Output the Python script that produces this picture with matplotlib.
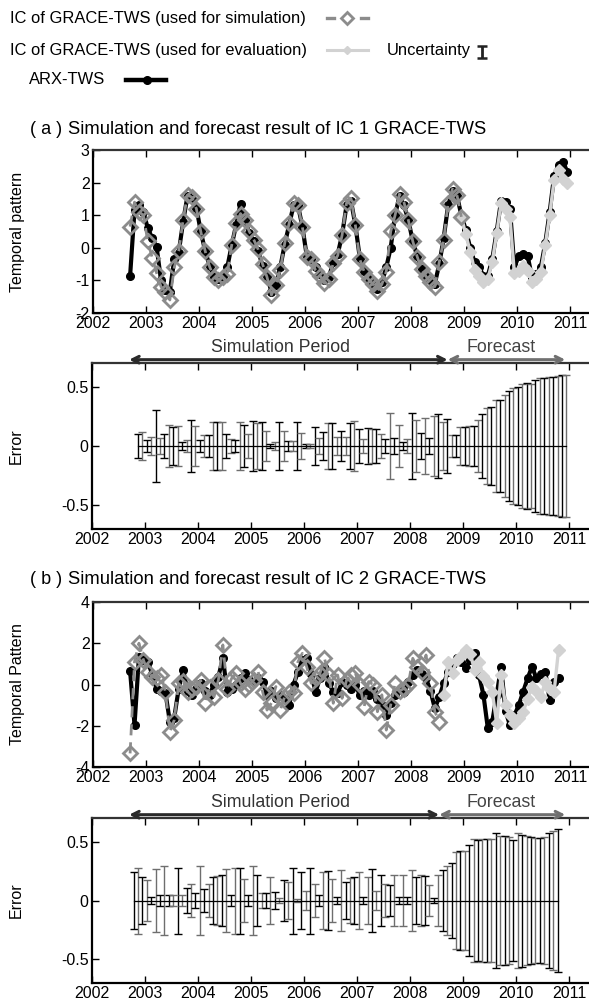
import numpy as np
import matplotlib
matplotlib.use("Agg")
import matplotlib.pyplot as plt

plt.rcParams['font.family'] = ['Liberation Sans', 'DejaVu Sans']
plt.rcParams['axes.unicode_minus'] = False

# ---------------- data ----------------
start_year = 2002.70          # first monthly sample
n_months = 100
years = [2002, 2003, 2004, 2005, 2006, 2007, 2008, 2009, 2010, 2011]

# Panel (a): IC 1
a_sim = [0.65, 1.40, 1.10, 1.00, 0.20, -0.30, -0.77, -1.19, -1.35, -1.60,
         -0.60, -0.10, 0.85, 1.62, 1.55, 1.20, 0.50, -0.10, -0.58, -0.90,
         -1.00, -0.90, -0.80, 0.08, 0.75, 1.05, 0.85, 0.50, 0.25, -0.05,
         -0.50, -0.90, -1.45, -1.14, -0.68, 0.14, 0.75, 1.37, 1.30, 0.65,
         -0.27, -0.33, -0.70, -0.85, -1.09, -0.95, -0.48, -0.24, 0.39, 1.37,
         1.52, 0.70, -0.35, -0.73, -0.97, -1.12, -1.32, -1.12, -0.73, 0.50,
         1.00, 1.65, 1.40, 0.85, 0.20, -0.27, -0.66, -0.88, -1.04, -1.19,
         -0.43, 0.24, 1.37, 1.80, 1.62, 0.95]
a_eval = [0.95, 0.41, -0.12, -0.68, -0.88, -1.04, -0.95, -0.43, 0.44, 1.37,
          1.20, 0.95, -0.78, -0.70, -0.55, -0.70, -1.04, -0.95, -0.75, 0.09,
          1.00, 2.08, 2.39, 2.10, 2.00]
a_arx = [-0.86, 1.15, 1.30, 1.10, 0.60, 0.30, 0.03, -1.00, -1.30, -1.35,
         -0.35, -0.15, 0.80, 1.60, 1.50, 1.23, 0.50, -0.10, -0.55, -0.90,
         -0.95, -0.85, -0.60, 0.08, 0.70, 1.35, 0.85, 0.45, 0.20, -0.10,
         -0.55, -0.85, -1.35, -1.15, -0.60, 0.10, 0.70, 1.30, 1.30, 0.65,
         -0.25, -0.35, -0.60, -0.80, -1.00, -0.90, -0.45, -0.20, 0.40, 1.30,
         1.45, 0.70, -0.30, -0.70, -0.95, -1.10, -1.25, -1.05, -0.60, 0.00,
         1.00, 1.60, 1.30, 0.85, 0.20, -0.25, -0.65, -0.85, -1.00, -1.10,
         -0.50, 0.30, 1.30, 1.75, 1.60, 1.00, 0.55, 0.00, -0.45, -0.60,
         -0.85, -0.85, -0.35, 0.50, 1.45, 1.40, 1.20, -0.60, -0.25, -0.20,
         -0.25, -0.90, -0.80, -0.60, 0.15, 1.10, 2.20, 2.55, 2.64, 2.33]
a_err = [np.nan, np.nan, 0.10, 0.12, 0.05, 0.08, 0.30, 0.07, 0.10, 0.18,
         0.16, 0.17, 0.03, 0.05, 0.22, 0.17, 0.05, 0.09, 0.09, 0.20,
         0.20, 0.20, 0.10, 0.06, 0.05, 0.20, 0.18, 0.10, 0.21, 0.19,
         0.20, 0.13, 0.02, 0.03, 0.20, 0.13, 0.04, 0.04, 0.20, 0.11,
         0.02, 0.02, 0.16, 0.07, 0.12, 0.19, 0.19, 0.08, 0.13, 0.08,
         0.19, 0.21, 0.14, 0.06, 0.15, 0.14, 0.14, 0.10, 0.06, 0.28,
         0.07, 0.18, 0.03, 0.06, 0.28, 0.22, 0.11, 0.24, 0.07, 0.25,
         0.27, 0.20, 0.23, 0.09, 0.09, 0.16, 0.16, 0.17, 0.17, 0.22,
         0.27, 0.32, 0.33, 0.39, 0.39, 0.43, 0.46, 0.49, 0.50, 0.52,
         0.53, 0.52, 0.56, 0.57, 0.57, 0.58, 0.58, 0.59, 0.60, 0.60]

# Panel (b): IC 2
b_sim = [-3.34, 1.10, 2.00, 1.20, 0.62, 0.38, 0.30, 0.46, -0.35, -2.29,
         -1.72, 0.06, 0.15, -0.35, -0.20, -0.10, 0.20, -0.91, -0.10, -0.59,
         0.22, 1.92, -0.20, 0.30, 0.54, 0.06, -0.24, 0.00, 0.22, 0.62,
         -0.35, -1.24, -0.90, -0.10, -1.24, -0.59, -0.35, -0.43, 1.10, 1.51,
         0.85, 0.06, 0.30, 0.54, 1.27, 0.46, -0.91, 0.46, -0.67, 0.20,
         0.46, 0.54, -0.02, -1.08, 0.14, 0.00, -1.32, -0.50, -2.21, -0.99,
         0.06, -0.30, -0.20, 0.00, 1.27, 0.85, 0.60, 1.43, 0.06, -1.32,
         -1.80]
b_eval = [-0.51, 1.10, 0.54, 1.20, 1.40, 1.67, 1.50, 0.70, 1.10, 0.40,
          0.10, -0.35, -1.88, 0.46, -1.00, -1.50, -1.88, -1.60, -1.32, -0.70,
          -0.10, -0.30, -0.59, 0.14, -0.20, -0.35, 1.67]
b_arx = [0.65, -1.97, 1.35, 1.20, 1.10, 0.50, -0.20, -0.30, -0.40, -1.80,
         -1.60, -0.20, 0.70, -0.30, -0.50, -0.20, 0.05, -0.30, -0.50, 0.00,
         0.38, 1.27, -0.35, -0.20, 0.00, 0.30, 0.54, 0.20, 0.10, 0.30,
         0.14, -0.50, -0.30, -0.66, -0.50, -0.70, -1.00, 0.00, 0.60, 1.20,
         1.27, 0.50, -0.35, 0.30, 0.85, 0.05, -0.35, -0.40, 0.10, -0.02,
         -0.20, 0.00, -0.51, -0.30, -0.51, -0.30, -0.70, -1.00, -1.48, -0.90,
         -0.50, -0.20, -0.35, 0.10, 0.46, 0.70, 0.50, 0.30, -0.30, -1.16,
         -0.60, 0.06, 0.60, 1.00, 1.27, 1.10, 0.80, 1.20, 1.51, 0.46,
         -0.50, -2.13, -1.80, -0.50, 0.86, -1.30, -1.97, -1.50, -1.00, -0.35,
         0.30, 0.86, 0.30, 0.50, 0.62, -0.75, 0.14, 0.30]
b_err = [np.nan, 0.24, 0.28, 0.20, 0.17, 0.03, 0.27, 0.05, 0.29, 0.05,
         0.05, 0.28, 0.05, 0.11, 0.14, 0.06, 0.29, 0.10, 0.14, 0.20,
         0.21, 0.22, 0.27, 0.05, 0.28, 0.28, 0.18, 0.05, 0.29, 0.22,
         0.06, 0.06, 0.20, 0.07, 0.02, 0.17, 0.16, 0.28, 0.01, 0.24,
         0.08, 0.28, 0.14, 0.05, 0.24, 0.25, 0.18, 0.03, 0.26, 0.16,
         0.19, 0.20, 0.24, 0.03, 0.20, 0.27, 0.08, 0.22, 0.14, 0.13,
         0.22, 0.03, 0.22, 0.03, 0.26, 0.20, 0.22, 0.21, 0.13, 0.02,
         0.22, 0.26, 0.29, 0.32, 0.41, 0.42, 0.42, 0.47, 0.52, 0.51,
         0.52, 0.52, 0.52, 0.57, 0.55, 0.55, 0.54, 0.51, 0.57, 0.56,
         0.55, 0.54, 0.53, 0.53, 0.54, 0.57, 0.59, 0.61]

a_sim_end = 2008.71   # arrow split (panel a)
b_sim_end = 2008.55   # arrow split (panel b)
arrow_start = 2002.70
arrow_end = 2010.93

# ---------------- figure ----------------
W, H = 589, 1005
fig = plt.figure(figsize=(W / 100, H / 100), dpi=100)

XMIN, XMAX = 2002.0, 2011.5
def add_ax(left, top, bottom):
    right = left + (XMAX - XMIN) * 53.0
    return fig.add_axes([left / W, 1 - bottom / H, (right - left) / W, (bottom - top) / H])

t_all = start_year + np.arange(n_months) / 12.0

C_SIM = '#8c8c8c'
C_EVAL = '#d2d2d2'

def style_axes(ax, yticks, ylim, ylabel):
    ax.set_xlim(XMIN, XMAX)
    ax.set_ylim(*ylim)
    ax.set_xticks(years)
    ax.set_xticklabels([str(y) for y in years])
    ax.set_yticks(yticks)
    ax.set_yticklabels([('%g' % v) for v in yticks])
    ax.tick_params(direction='in', top=True, right=False, length=5, width=1,
                   labelsize=11.5, pad=2.5)
    for s in ['left', 'bottom', 'top']:
        ax.spines[s].set_linewidth(1.6)
    ax.spines['top'].set_color('#333333')
    ax.spines['right'].set_visible(False)
    ax.set_ylabel(ylabel, fontsize=11.5)
    ax.yaxis.set_label_coords(-0.135, 0.5)

def series_panel(ax, arx, sim, evl):
    n = len(arx)
    ax.plot(t_all[:n], arx, color='black', lw=3.0, marker='o', ms=5.5, zorder=2)
    ne = len(evl)
    i0 = n - ne
    ax.plot(t_all[i0:i0 + ne], evl, color=C_EVAL, lw=2.4, marker='D', ms=6.5,
            mfc=C_EVAL, mec=C_EVAL, zorder=3)
    ax.plot(t_all[:len(sim)], sim, color=C_SIM, lw=2.0, ls=(0, (4, 2.5)), marker='D', ms=7,
            mfc='none', mec=C_SIM, mew=2.0, zorder=4)

def error_panel(ax, err, split):
    e = np.array(err)
    ok = ~np.isnan(e)
    t = t_all[:len(e)][ok]
    ev = e[ok]
    ax.plot(t, np.zeros_like(t), color='black', lw=0.9, zorder=3)
    for k, (tt, vv) in enumerate(zip(t, ev)):
        col = 'black' if k % 2 == 0 else '#6e6e6e'
        ax.errorbar([tt], [0], yerr=[vv], fmt='none', ecolor=col, elinewidth=1.0,
                    capsize=3, capthick=1.0, zorder=2)
    # period arrows
    ax.annotate('', xy=(arrow_start, 1.02), xytext=(split, 1.02),
                xycoords=('data', 'axes fraction'), textcoords=('data', 'axes fraction'),
                arrowprops=dict(arrowstyle='<->', color='#2a2a2a', lw=2.2,
                                mutation_scale=12, shrinkA=0, shrinkB=0),
                annotation_clip=False)
    ax.annotate('', xy=(split, 1.02), xytext=(arrow_end, 1.02),
                xycoords=('data', 'axes fraction'), textcoords=('data', 'axes fraction'),
                arrowprops=dict(arrowstyle='<->', color='#707070', lw=2.2,
                                mutation_scale=12, shrinkA=0, shrinkB=0),
                annotation_clip=False)
    ax.text(2005.55, 1.04, 'Simulation Period', transform=ax.get_xaxis_transform(),
            ha='center', va='bottom', fontsize=12.8, color='#333333')
    ax.text(2009.72, 1.04, 'Forecast', transform=ax.get_xaxis_transform(),
            ha='center', va='bottom', fontsize=12.8, color='#444444')

# Panel (a)
ax1 = add_ax(93, 150, 313)
series_panel(ax1, a_arx, a_sim, a_eval)
style_axes(ax1, [-2, -1, 0, 1, 2, 3], (-2, 3), 'Temporal pattern')

ax2 = add_ax(92, 363, 529)
error_panel(ax2, a_err, a_sim_end)
style_axes(ax2, [-0.5, 0, 0.5], (-0.7, 0.7), 'Error')

# Panel (b)
ax3 = add_ax(93, 602, 767)
series_panel(ax3, b_arx, b_sim, b_eval)
style_axes(ax3, [-4, -2, 0, 2, 4], (-4, 4), 'Temporal Pattern')

ax4 = add_ax(92, 818, 983)
error_panel(ax4, b_err, b_sim_end)
style_axes(ax4, [-0.5, 0, 0.5], (-0.7, 0.7), 'Error')

# Titles
def ftext(x, y, s, **kw):
    fig.text(x / W, 1 - y / H, s, **kw)

ftext(30, 130, '( a )', fontsize=13, va='center', ha='left')
ftext(68, 130, 'Simulation and forecast result of IC 1 GRACE-TWS', fontsize=13.2, va='center', ha='left')
ftext(30, 579, '( b )', fontsize=13, va='center', ha='left')
ftext(68, 579, 'Simulation and forecast result of IC 2 GRACE-TWS', fontsize=13.2, va='center', ha='left')

# Legend (drawn in figure pixel coordinates)
lg = fig.add_axes([0, 1 - 100 / H, 1, 100 / H])
lg.set_xlim(0, W)
lg.set_ylim(100, 0)
lg.axis('off')
lg.text(10, 18, 'IC of GRACE-TWS (used for simulation)', fontsize=11.9, va='center', ha='left')
lg.text(10, 50, 'IC of GRACE-TWS (used for evaluation)', fontsize=11.9, va='center', ha='left')
lg.text(29, 80, 'ARX-TWS', fontsize=11.9, va='center', ha='left')
lg.text(387, 50, 'Uncertainty', fontsize=11.9, va='center', ha='left')
lg.plot([327, 334], [18, 18], color=C_SIM, lw=2.4)
lg.plot([361, 368], [18, 18], color=C_SIM, lw=2.4)
lg.plot([347], [18], marker='D', ms=6.5, mfc='none', mec=C_SIM, mew=2.0, color=C_SIM)
lg.plot([327, 368], [50, 50], color=C_EVAL, lw=2.2)
lg.plot([347], [50], marker='D', ms=4, color=C_EVAL)
lg.plot([126, 166], [80, 80], color='black', lw=3.2)
lg.plot([147], [80], marker='o', ms=5.5, color='black')
lg.errorbar([482], [52], yerr=[6], fmt='none', ecolor='#222222', elinewidth=2, capsize=3.5, capthick=1.8)

fig.savefig('out.png', dpi=100)
